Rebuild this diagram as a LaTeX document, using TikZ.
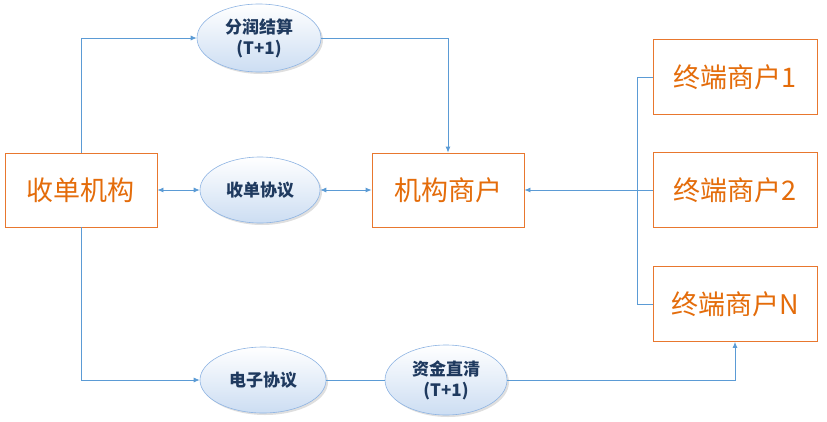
\documentclass[tikz,border=0pt]{standalone}
\usepackage{fontspec}
\setmainfont{Noto Sans CJK SC}
\usetikzlibrary{shapes.geometric,arrows.meta,shadows}
\definecolor{org}{HTML}{E8772E}
\definecolor{orgtxt}{HTML}{E46C0A}
\definecolor{ln}{HTML}{5B9BD5}
\definecolor{ell}{HTML}{8EB4E3}
\definecolor{etxt}{HTML}{1F3A5F}
\begin{document}
\begin{tikzpicture}[x=1pt,y=-1pt,
  boxn/.style={draw=org,line width=0.8pt,fill=white,minimum width=152pt,minimum height=74pt,inner sep=0pt,text=orgtxt,font=\fontsize{27}{30}\selectfont},
  tbox/.style={boxn,minimum width=164pt,minimum height=75pt},
  elln/.style={ellipse,draw=ell,line width=0.6pt,top color=white,bottom color=ell!45,drop shadow={opacity=0.25,shadow xshift=2pt,shadow yshift=-2pt},inner sep=0pt,text=etxt,font=\bfseries\fontsize{17}{21}\selectfont,align=center},
  conn/.style={draw=ln,line width=0.8pt},
  arr/.style={conn,-{Latex[length=6pt,width=5pt]}},
  darr/.style={conn,{Latex[length=6pt,width=5pt]}-{Latex[length=6pt,width=5pt]}}]
\useasboundingbox (0,0) rectangle (827,421);
\node[boxn] (sd) at (81,190) {收单机构};
\node[boxn] (jg) at (448,190) {机构商户};
\node[tbox] (t1) at (735,77) {终端商户1};
\node[tbox] (t2) at (735,190) {终端商户2};
\node[tbox] (tn) at (735,304) {终端商户N};
\node[elln,minimum width=124pt,minimum height=68pt] (fr) at (259,38) {分润结算\\(T+1)};
\node[elln,minimum width=120pt,minimum height=66pt] (xy) at (260,190) {收单协议};
\node[elln,minimum width=126pt,minimum height=66pt] (dz) at (263,380) {电子协议};
\node[elln,minimum width=122pt,minimum height=70pt] (zj) at (446,380) {资金直清\\(T+1)};
\coordinate (bt) at (637,77);
\coordinate (bm) at (637,190);
\coordinate (bb) at (637,304);
\draw[arr] (sd.north) |- (fr.west);
\draw[arr] (fr.east) -| (jg.north);
\draw[darr] (sd.east) -- (xy.west);
\draw[darr] (xy.east) -- (jg.west);
\draw[conn] (t1.west) -- (bt) -- (bb) -- (tn.west);
\draw[conn] (t2.west) -- (bm);
\draw[arr] (bm) -- (jg.east);
\draw[arr] (sd.south) |- (dz.west);
\draw[conn] (dz.east) -- (zj.west);
\draw[arr] (zj.east) -| (tn.south);
\end{tikzpicture}
\end{document}
